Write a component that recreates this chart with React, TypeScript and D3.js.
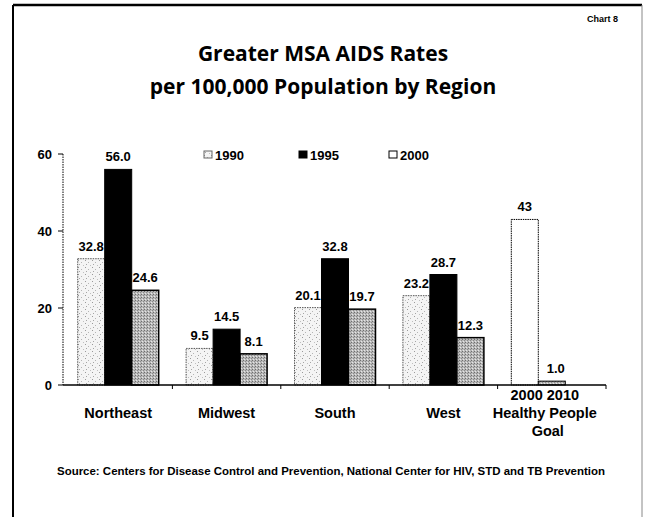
import React from "react";
import * as d3 from "d3";

const categories = ["Northeast", "Midwest", "South", "West"];
const seriesNames = ["1990", "1995", "2000"];
const values1990 = [32.8, 9.5, 20.1, 23.2];
const values1995 = [56.0, 14.5, 32.8, 28.7];
const values2000 = [24.6, 8.1, 19.7, 12.3];
const goalNames = ["2000", "2010"];
const goalValues = [43, 1.0];
const goalLabels = ["43", "1.0"];
const goalCategoryLines = ["2000 2010", "Healthy People", "Goal"];
const yTicks = [0, 20, 40, 60];
const titleLines = ["Greater MSA AIDS Rates", "per 100,000 Population by Region"];
const chartTag = "Chart 8";
const sourceText =
  "Source: Centers for Disease Control and Prevention, National Center for HIV, STD and TB Prevention";

const W = 649;
const H = 517;
const FONT = "'Liberation Sans', Arial, sans-serif";

export default function App() {
  const allCats = [...categories, "Goal"];
  const x = d3.scaleBand<string>().domain(allCats).range([64, 606]).padding(0);
  const inner = d3
    .scaleBand<string>()
    .domain(seriesNames)
    .range([(x.bandwidth() - 81) / 2, (x.bandwidth() + 81) / 2])
    .padding(0);
  const y = d3.scaleLinear().domain([0, 60]).range([385, 154]);
  const fmt = d3.format(".1f");
  const series = [values1990, values1995, values2000];
  const fills = ["url(#p1990)", "#000", "url(#p2000)"];
  const strokes = ["#555", "#000", "#000"];
  const dashes = ["1.5,1", undefined, undefined];

  return (
    <svg width={W} height={H} style={{ position: "absolute", left: 0, top: 0, background: "#fff" }}>
      <defs>
        <pattern id="p1990" width="7" height="7" patternUnits="userSpaceOnUse">
          <rect width="7" height="7" fill="#f4f4f4" />
          <rect x="1" y="1" width="1" height="1" fill="#9a9a9a" />
          <rect x="4" y="3" width="1" height="1" fill="#b5b5b5" />
          <rect x="2" y="5" width="1" height="1" fill="#a5a5a5" />
          <rect x="6" y="6" width="1" height="1" fill="#c0c0c0" />
        </pattern>
        <pattern id="p2000" width="3" height="3" patternUnits="userSpaceOnUse">
          <rect width="3" height="3" fill="#b9b9b9" />
          <rect x="0" y="0" width="1" height="1" fill="#6e6e6e" />
          <rect x="2" y="1" width="1" height="1" fill="#8a8a8a" />
          <rect x="1" y="2" width="1" height="1" fill="#e6e6e6" />
        </pattern>
      </defs>

      {/* frame */}
      <line x1={13} y1={5} x2={642} y2={5} stroke="#000" strokeWidth={2.5} />
      <line x1={13} y1={5} x2={13} y2={H} stroke="#000" strokeWidth={2} />
      <line x1={642} y1={5} x2={642} y2={H} stroke="#888" strokeWidth={1} />

      {/* titles */}
      <text x={618} y={22} textAnchor="end" fontFamily={FONT} fontWeight="bold" fontSize={9}>
        {chartTag}
      </text>
      {titleLines.map((t, i) => (
        <text
          key={t}
          x={323}
          y={61 + i * 33}
          textAnchor="middle"
          fontFamily="'Open Sans', sans-serif"
          fontWeight="bold"
          fontSize={21}
        >
          {t}
        </text>
      ))}

      {/* legend */}
      {seriesNames.map((s, i) => {
        const lx = [215, 310, 400][i];
        const legFill = ["url(#p1990)", "#000", "#fff"][i];
        return (
          <g key={s}>
            <rect
              x={lx - 11}
              y={151}
              width={8}
              height={7}
              fill={legFill}
              stroke={i === 0 ? "#666" : "#000"}
              strokeWidth={1}
            />
            <text x={lx} y={159.5} fontFamily={FONT} fontWeight="bold" fontSize={13}>
              {s}
            </text>
          </g>
        );
      })}

      {/* y axis */}
      <line x1={63} y1={y(60)} x2={63} y2={y(0)} stroke="#000" strokeWidth={1} strokeDasharray="1.5,1" />
      {yTicks.map((t) => (
        <g key={t}>
          <line x1={58} x2={63} y1={y(t)} y2={y(t)} stroke="#000" strokeWidth={1} />
          <text
            x={52}
            y={y(t) + 4.5}
            textAnchor="end"
            fontFamily={FONT}
            fontWeight="bold"
            fontSize={13}
          >
            {t}
          </text>
        </g>
      ))}

      {/* bars */}
      {categories.map((c, ci) => (
        <g key={c}>
          {series.map((vals, si) => {
            const bx = (x(c) as number) + (inner(seriesNames[si]) as number);
            const v = vals[ci];
            return (
              <g key={si}>
                <rect
                  x={bx}
                  y={y(v)}
                  width={inner.bandwidth()}
                  height={y(0) - y(v)}
                  fill={fills[si]}
                  stroke={strokes[si]}
                  strokeWidth={si === 2 ? 1.5 : 1}
                  strokeDasharray={dashes[si]}
                />
                <text
                  x={bx + inner.bandwidth() / 2}
                  y={y(v) - 8}
                  textAnchor="middle"
                  fontFamily={FONT}
                  fontWeight="bold"
                  fontSize={13}
                >
                  {fmt(v)}
                </text>
              </g>
            );
          })}
          <text
            x={(x(c) as number) + x.bandwidth() / 2}
            y={418}
            textAnchor="middle"
            fontFamily={FONT}
            fontWeight="bold"
            fontSize={14.5}
          >
            {c}
          </text>
        </g>
      ))}

      {/* goal bars */}
      {goalValues.map((v, gi) => {
        const bx = (x("Goal") as number) + (inner(seriesNames[gi]) as number);
        return (
          <g key={goalNames[gi]}>
            <rect
              x={bx}
              y={y(v)}
              width={inner.bandwidth()}
              height={y(0) - y(v)}
              fill={gi === 0 ? "#fff" : "url(#p2000)"}
              stroke="#000"
              strokeWidth={1}
              strokeDasharray={gi === 0 ? "1.5,0.8" : undefined}
            />
            <text
              x={bx + inner.bandwidth() / 2 + (gi === 1 ? 4 : 0)}
              y={y(v) - 8}
              textAnchor="middle"
              fontFamily={FONT}
              fontWeight="bold"
              fontSize={13}
            >
              {goalLabels[gi]}
            </text>
          </g>
        );
      })}
      {goalCategoryLines.map((t, i) => (
        <text
          key={t}
          x={(x("Goal") as number) + x.bandwidth() / 2 - 7 + (i === 2 ? 3 : 0)}
          y={400 + i * 18}
          textAnchor="middle"
          fontFamily={FONT}
          fontWeight="bold"
          fontSize={14.5}
        >
          {t}
        </text>
      ))}

      {/* x axis */}
      <line x1={63} x2={606} y1={y(0)} y2={y(0)} stroke="#000" strokeWidth={1.5} />
      {allCats.map((c) => {
        const bx = (x(c) as number) + x.bandwidth();
        return <line key={c} x1={bx} x2={bx} y1={y(0)} y2={y(0) + 4} stroke="#000" strokeWidth={1} />;
      })}

      {/* source */}
      <text
        x={331}
        y={475}
        textAnchor="middle"
        fontFamily={FONT}
        fontWeight="bold"
        fontSize={10.5}
        textLength={548}
        lengthAdjust="spacingAndGlyphs"
      >
        {sourceText}
      </text>
    </svg>
  );
}
